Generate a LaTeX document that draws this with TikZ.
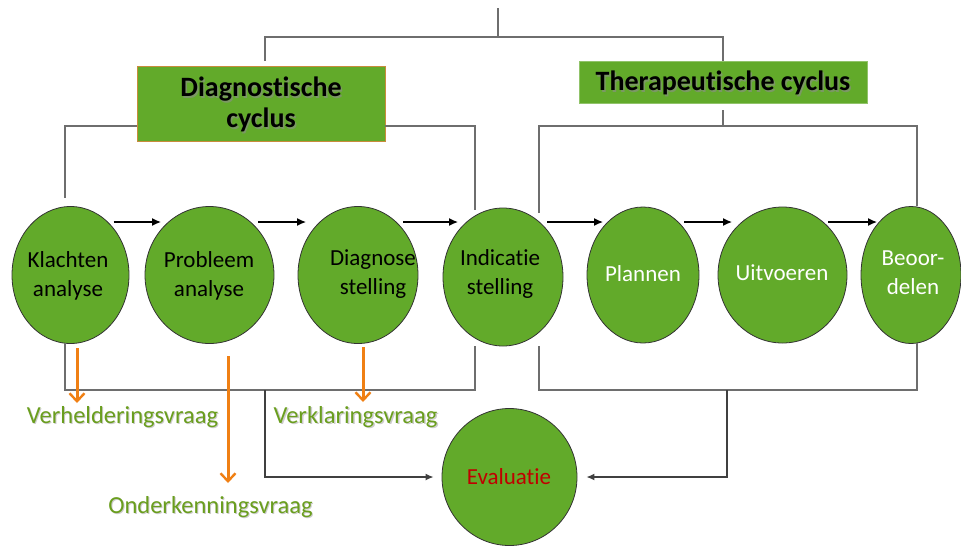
\documentclass[tikz,border=0pt]{standalone}
\usepackage{fontspec}
\setmainfont{Carlito}[Ligatures=NoCommon]
\usetikzlibrary{arrows.meta,shapes.geometric,calc}
\definecolor{leaf}{RGB}{98,170,42}
\definecolor{boxedge}{RGB}{200,140,60}
\definecolor{wire}{RGB}{110,110,110}
\definecolor{warn}{RGB}{240,128,20}
\definecolor{qgreen}{RGB}{106,158,30}
\definecolor{evalred}{RGB}{192,0,0}
\begin{document}
\begin{tikzpicture}[x=1pt,y=-1pt,
  stage/.style={ellipse,draw=black!80,line width=0.8pt,fill=leaf,inner sep=0pt},
  steptext/.style={font=\fontsize{23}{29}\selectfont,align=center,inner sep=0pt},
  titlebox/.style={draw=boxedge,line width=0.8pt,fill=leaf,inner sep=0pt},
  titletext/.style={font=\fontsize{28}{31}\selectfont\bfseries,align=center,inner sep=0pt},
  question/.style={font=\fontsize{24.5}{30}\selectfont,text=qgreen,inner sep=0pt},
  tree/.style={draw=wire,line width=1.4pt},
  treearrow/.style={tree,-{Latex[length=8pt,width=7pt]},draw=black!75},
  flow/.style={draw=black,line width=1.3pt,-{Latex[length=9pt,width=8pt]}},
  probe/.style={draw=warn,line width=3pt,-{Straight Barb[length=8pt,width=15pt,line width=2.4pt]}}
]
\useasboundingbox (0,0) rectangle (961,558);

% title boxes
\node[titlebox,minimum width=248pt,minimum height=75pt] (dg) at (261,103.5) {};
\node[titlebox,draw=leaf!70!white,minimum width=288pt,minimum height=42pt] (th) at (723,82) {};
\node[titletext,text=black!45,opacity=0.6] (dgs) at (262.5,106) {Diagnostische\\cyclus};
\node[titletext] (dgt) at (261,104.5) {Diagnostische\\cyclus};
\node[titletext,text=black!45,opacity=0.6] (ths) at (724.5,84.5) {Therapeutische cyclus};
\node[titletext] (tht) at (723,83) {Therapeutische cyclus};

% stages of both cycles
\node[stage,minimum width=117pt,minimum height=137pt] (kl) at (70.5,275) {};
\node[stage,minimum width=129pt,minimum height=137pt] (pr) at (209.5,275) {};
\node[stage,minimum width=120pt,minimum height=137pt] (di) at (358,275) {};
\node[stage,minimum width=120pt,minimum height=138pt] (in) at (503,277) {};
\node[stage,minimum width=112pt,minimum height=136pt] (pl) at (643,275) {};
\node[stage,minimum width=129pt,minimum height=136pt] (ui) at (782.5,275) {};
\node[stage,minimum width=100pt,minimum height=137pt] (be) at (911,275) {};
\node[stage,minimum width=135pt,minimum height=137pt] (ev) at (509.5,477) {};

\node[steptext] (klt) at (68,276) {Klachten\\analyse};
\node[steptext] (prt) at (209,276) {Probleem\\analyse};
\node[steptext] (dit) at (373,274) {Diagnose\\stelling};
\node[steptext] (int) at (500,274) {Indicatie\\stelling};
\node[steptext,text=white] (plt) at (643,274) {Plannen};
\node[steptext,text=white] (uit) at (782,273) {Uitvoeren};
\node[steptext,text=white] (bet) at (913,273) {Beoor-\\delen};
\node[steptext,text=evalred] (evt) at (509,477) {Evaluatie};

% flow between the stages
\draw[flow] ($(kl.center)+(43,-53)$) -- ($(pr.center)+(-48.5,-53)$);
\draw[flow] ($(pr.center)+(48.5,-53)$) -- ($(di.center)+(-52,-53)$);
\draw[flow] ($(di.center)+(45,-53)$) -- ($(in.center)+(-45,-55)$);
\draw[flow] ($(in.center)+(44,-55)$) -- ($(pl.center)+(-40,-53)$);
\draw[flow] ($(pl.center)+(41,-53)$) -- ($(ui.center)+(-50.5,-53)$);
\draw[flow] ($(ui.center)+(45.5,-53)$) -- ($(be.center)+(-34,-53)$);

% bracket lines above
\coordinate (top) at (498,8);
\draw[tree] (top) -- (498,37);
\draw[tree] (265,61) |- (723,37) -- (th.north);
\draw[tree] (dg.west |- 0,126) -| (65,198);
\draw[tree] (dg.east |- 0,126) -| (475,210);
\draw[tree] ($(th.south)+(0,7)$) -- (723,126);
\draw[tree] (539,213) |- (917,126) -- (be.north -| 917,0);

% bracket lines below, joining in the evaluation
\draw[tree] (65,343) |- (475,390) -- (475,346);
\draw[tree] (539,346) |- (917,390) -- (917,343);
\draw[treearrow,shorten >=8pt] (265,390) |- (ev.west);
\draw[treearrow,shorten >=9pt] (727,390) |- (ev.east);

% questions of the diagnostic cycle
\draw[probe] ($(kl.center)+(6.5,73)$) -- ($(kl.center)+(6.5,128)$);
\draw[probe] ($(pr.center)+(18.5,81)$) -- ($(pr.center)+(18.5,208)$);
\draw[probe] ($(di.center)+(5,72)$) -- ($(di.center)+(5,127)$);

\node[question,text=black!40,opacity=0.5] (q1s) at (123.5,418.5) {Verhelderingsvraag};
\node[question] (q1) at (122.5,417) {Verhelderingsvraag};
\node[question,text=black!40,opacity=0.5] (q2s) at (211.5,508.5) {Onderkenningsvraag};
\node[question] (q2) at (210.5,507) {Onderkenningsvraag};
\node[question,text=black!40,opacity=0.5] (q3s) at (357,418.5) {Verklaringsvraag};
\node[question] (q3) at (355.5,417) {Verklaringsvraag};
\end{tikzpicture}
\end{document}
